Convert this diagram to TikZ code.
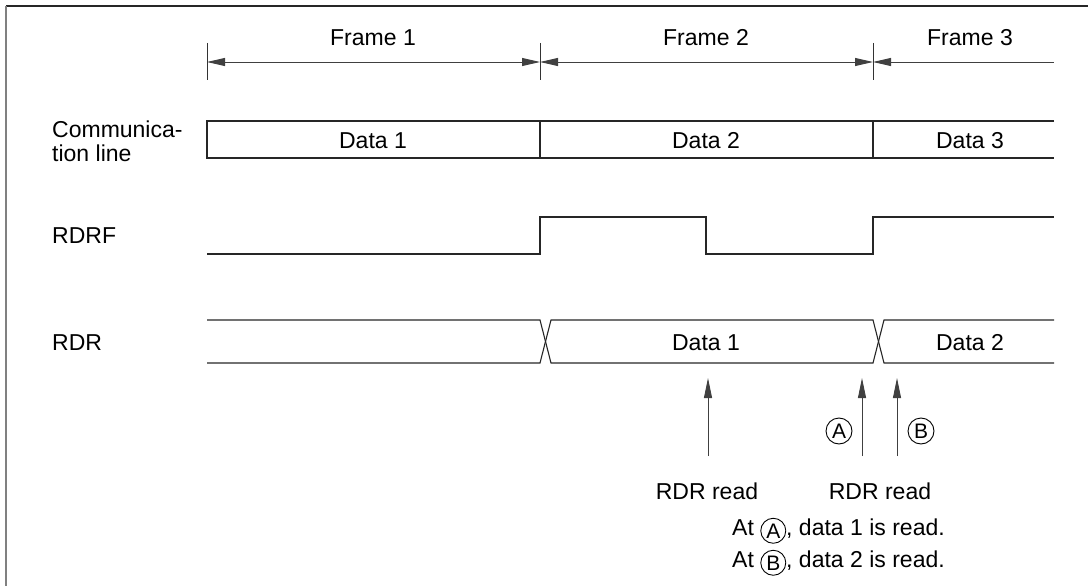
\documentclass[tikz,border=0pt]{standalone}
\usepackage{fontspec}
\setmainfont{Liberation Sans}
\usetikzlibrary{arrows.meta}
\newcommand{\circlet}[1]{\tikz[baseline={([yshift=3pt]cl.base)}]\node[draw,circle,line width=0.9pt,minimum size=25pt,inner sep=0pt](cl){\fontsize{21}{21}\selectfont #1};}
\tikzset{
  txt/.style={inner sep=0pt,anchor=base,font=\fontsize{23}{23}\selectfont},
  ltxt/.style={txt,anchor=base west},
  wave/.style={line width=1.1pt,black!85},
  tick/.style={line width=0.9pt,black!80},
  dim/.style={line width=0.9pt,black!75},
  dtip/.tip={Triangle[length=18pt,width=8pt]},
  rdarrow/.style={line width=0.9pt,black!75,-{Triangle[length=20pt,width=8pt]}},
  circ/.style={draw,circle,line width=0.9pt,minimum size=26pt,inner sep=0pt,font=\fontsize{21}{21}\selectfont}
}
\begin{document}
\begin{tikzpicture}[x=1pt,y=-1pt]
\useasboundingbox (0,0) rectangle (1088,586);
% border
\draw[line width=1.3pt,black!85] (6,6) -- (1088,6);
\draw[line width=1.5pt,black!50] (6,6) -- (6,586);
% frame dimension lines
\coordinate (t1) at (207,62);
\coordinate (t2) at (540,62);
\coordinate (t3) at (873,62);
\coordinate (e3) at (1054,62);
\draw[tick] (207,43) -- (207,80);
\draw[tick] (540,43) -- (540,80);
\draw[tick] (873,43) -- (873,80);
\draw[dim,dtip-dtip] (t1) -- (t2);
\draw[dim,dtip-dtip] (t2) -- (t3);
\draw[dim,dtip-] (t3) -- (e3);
\node[txt] (fr1) at (373,46) {Frame 1};
\node[txt] (fr2) at (706,46) {Frame 2};
\node[txt] (fr3) at (970,46) {Frame 3};
% left labels
\node[ltxt] (lc1) at (52,138) {Communica-};
\node[ltxt] (lc2) at (52,161) {tion line};
\node[ltxt] (lrdrf) at (52,243) {RDRF};
\node[ltxt] (lrdr) at (52,350) {RDR};
% communication line
\draw[wave] (1054,121) -- (207,121) -- (207,158) -- (1054,158);
\draw[wave] (540,121) -- (540,158);
\draw[wave] (873,121) -- (873,158);
\node[txt] (cd1) at (373,148) {Data 1};
\node[txt] (cd2) at (706,148) {Data 2};
\node[txt] (cd3) at (970,148) {Data 3};
% RDRF
\draw[wave] (207,254) -- (540,254) -- (540,217) -- (706,217) -- (706,254) -- (873,254) -- (873,217) -- (1054,217);
% RDR
\draw[wave] (207,320) -- (540,320) -- (551,363) -- (873,363) -- (884,320) -- (1054,320);
\draw[wave] (207,363) -- (540,363) -- (551,320) -- (873,320) -- (884,363) -- (1054,363);
\node[txt] (rd1) at (706,350) {Data 1};
\node[txt] (rd2) at (970,350) {Data 2};
% read arrows
\coordinate (a1s) at (708,456); \coordinate (a1e) at (708,378);
\coordinate (a2s) at (862,456); \coordinate (a2e) at (862,378);
\coordinate (a3s) at (897,456); \coordinate (a3e) at (897,378);
\draw[rdarrow] (a1s) -- (a1e);
\draw[rdarrow] (a2s) -- (a2e);
\draw[rdarrow] (a3s) -- (a3e);
\node[circ] (ca) at (839,431) {A};
\node[circ] (cb) at (921,431) {B};
\node[txt] (rr1) at (707,499) {RDR read};
\node[txt] (rr2) at (880,499) {RDR read};
% notes
\node[ltxt] (n1) at (732,535) {At \circlet{A}, data 1 is read.};
\node[ltxt] (n2) at (732,567) {At \circlet{B}, data 2 is read.};
\end{tikzpicture}
\end{document}
